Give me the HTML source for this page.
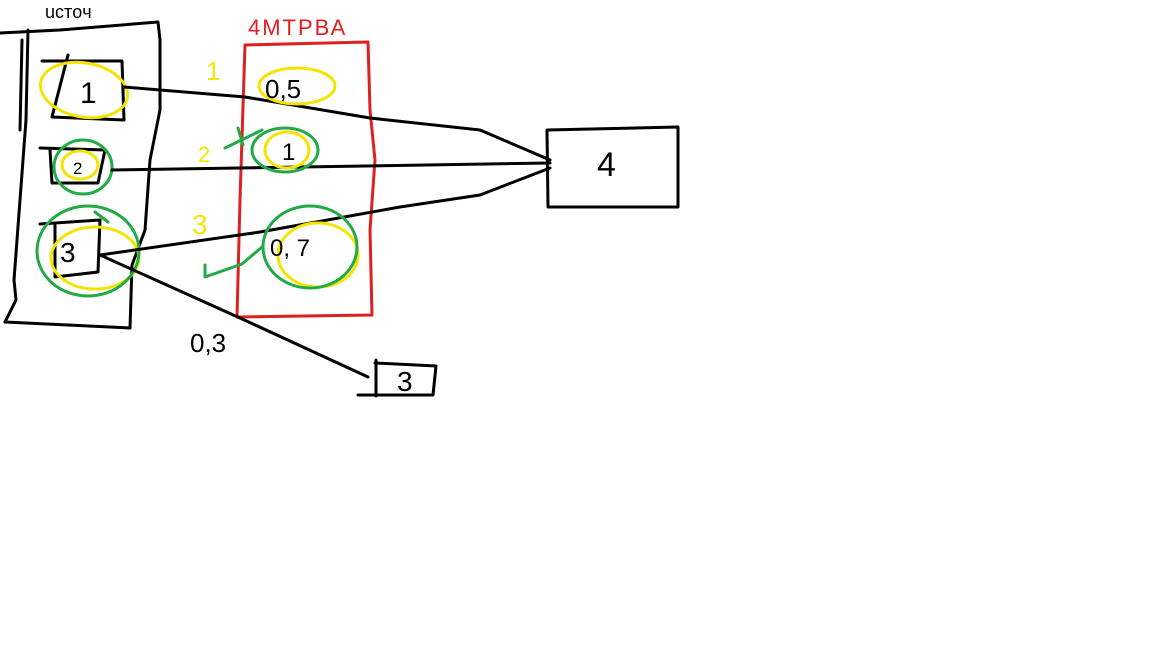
<!DOCTYPE html>
<html><head><meta charset="utf-8"><style>
body{margin:0;background:#fff;width:1152px;height:648px;overflow:hidden}
svg{display:block}
text{font-family:"Liberation Sans",sans-serif}
</style></head><body>
<svg width="1152" height="648" viewBox="0 0 1152 648" fill="none" stroke-linecap="round" stroke-linejoin="round">
<g stroke="#000" stroke-width="3">
<path d="M0,33 L60,30 L158,22 L160,40 L160,110 L150,160 L145,230 L132,265 L130,328"/>
<path d="M5,322 L130,328"/>
<path d="M28,30 L26,120 L20,200 L14,280 L16,300 L5,322"/>
<path d="M22,40 L20,130"/>
</g>
<text x="45" y="18" font-size="18" fill="#000">ucтoч</text>
<g stroke="#000" stroke-width="3">
<path d="M42,61 L122,61 L124,120 L52,117 L68,55"/>
</g>
<text x="80" y="103" font-size="30" fill="#000">1</text>
<ellipse cx="84" cy="90" rx="44" ry="27" stroke="#f5e400" stroke-width="3" transform="rotate(10 84 90)"/>
<g stroke="#000" stroke-width="3">
<path d="M40,148 L105,150 L98,183 L52,183 L50,150"/>
</g>
<text x="73" y="174" font-size="17" fill="#000">2</text>
<ellipse cx="80" cy="165" rx="18" ry="14" stroke="#f5e400" stroke-width="3"/>
<ellipse cx="83" cy="167" rx="29" ry="27" stroke="#22aa44" stroke-width="3"/>
<g stroke="#000" stroke-width="3">
<path d="M40,224 L100,220 L98,272 L55,277 L55,225"/>
</g>
<text x="60" y="262" font-size="28" fill="#000">3</text>
<ellipse cx="95" cy="258" rx="44" ry="31" stroke="#f5e400" stroke-width="3"/>
<ellipse cx="88" cy="251" rx="51" ry="45" stroke="#22aa44" stroke-width="3"/>
<path d="M95,212 L108,222" stroke="#22aa44" stroke-width="3"/>
<g stroke="#e02020" stroke-width="3">
<path d="M245,45 L368,42 L370,110 L375,160 L370,230 L372,315 L237,317 L240,200 L245,45"/>
</g>
<text x="248" y="35" font-size="22" fill="#e02020" letter-spacing="2">4МТРВА</text>
<g stroke="#000" stroke-width="3">
<path d="M124,87 L245,97 L370,118 L480,130 L550,160"/>
<path d="M112,170 L300,167 L550,163"/>
<path d="M100,255 L260,232 L400,207 L480,195 L550,168"/>
<path d="M100,255 L240,318 L368,377"/>
</g>
<ellipse cx="297" cy="86" rx="38" ry="18" stroke="#f5e400" stroke-width="3"/>
<text x="265" y="98" font-size="26" fill="#000">0,5</text>
<ellipse cx="287" cy="150" rx="22" ry="18" stroke="#f5e400" stroke-width="3"/>
<ellipse cx="285" cy="150" rx="33" ry="22" stroke="#22aa44" stroke-width="3"/>
<text x="282" y="160" font-size="24" fill="#000">1</text>
<ellipse cx="318" cy="255" rx="40" ry="32" stroke="#f5e400" stroke-width="3"/>
<ellipse cx="310" cy="247" rx="47" ry="41" stroke="#22aa44" stroke-width="3"/>
<text x="270" y="256" font-size="24" fill="#000">0, 7</text>
<g stroke="#22aa44" stroke-width="3">
<path d="M225,148 L262,130"/><path d="M238,128 L243,145"/>
<path d="M205,265 L205,277 L242,264 L262,247"/>
</g>
<text x="206" y="80" font-size="26" fill="#f5e400">1</text>
<text x="198" y="162" font-size="22" fill="#f5e400">2</text>
<text x="192" y="234" font-size="28" fill="#f5e400">3</text>
<g stroke="#000" stroke-width="3">
<path d="M547,130 L678,127 L678,207 L548,207 L547,130"/>
</g>
<text x="597" y="176" font-size="34" fill="#000">4</text>
<g stroke="#000" stroke-width="3">
<path d="M375,363 L436,366 L433,395 L358,395"/><path d="M376,360 L376,396"/>
</g>
<text x="397" y="391" font-size="28" fill="#000">3</text>
<text x="190" y="352" font-size="26" fill="#000">0,3</text>
</svg>
</body></html>
